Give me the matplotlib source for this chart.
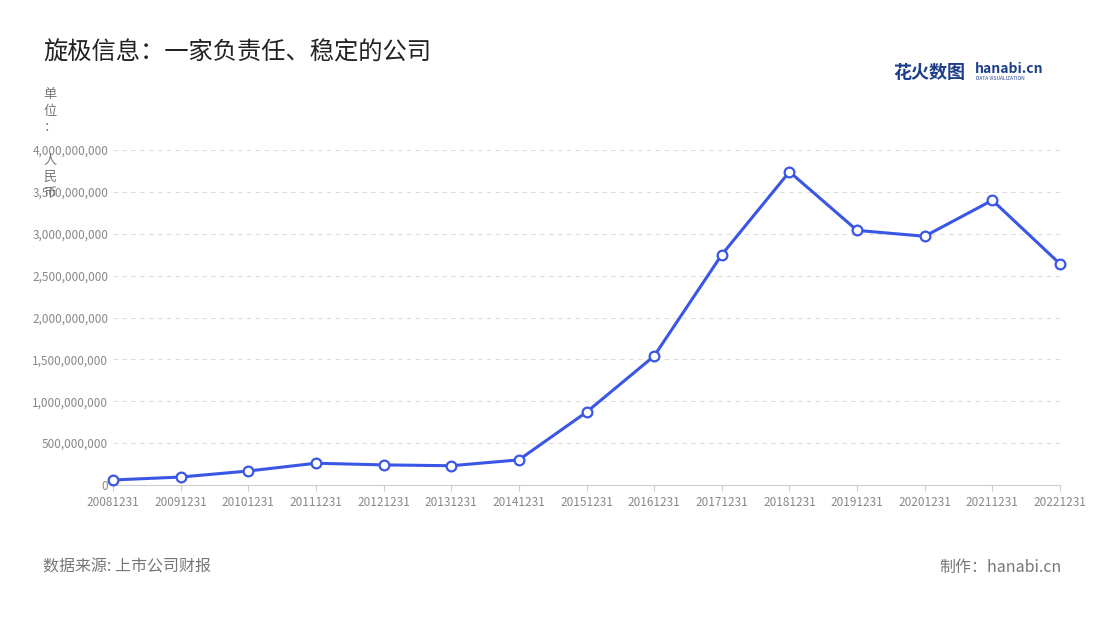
import matplotlib
matplotlib.use("Agg")
import matplotlib.pyplot as plt
from matplotlib.ticker import FuncFormatter

plt.rcParams['font.family'] = ['Noto Sans CJK SC', 'DejaVu Sans']

dates = ["20081231","20091231","20101231","20111231","20121231","20131231","20141231",
         "20151231","20161231","20171231","20181231","20191231","20201231","20211231","20221231"]
values = [0.06e9,0.095e9,0.167e9,0.26e9,0.24e9,0.23e9,0.30e9,0.87e9,1.54e9,2.75e9,
          3.74e9,3.04e9,2.97e9,3.40e9,2.64e9]
yticks = [0,5e8,1e9,1.5e9,2e9,2.5e9,3e9,3.5e9,4e9]

W,H = 1100,620
fig = plt.figure(figsize=(W/100,H/100), dpi=100)
ax = fig.add_axes([113/W, 1-485/H, (1060-113)/W, (485-150)/H])
x = list(range(len(dates)))
ax.plot(x, values, color='#3a56e4', lw=2.2, marker='o', ms=7,
        mfc='white', mec='#3a56e4', mew=1.6, zorder=3, clip_on=False)
ax.set_xlim(0, len(dates)-1)
ax.set_ylim(0, 4e9)
ax.set_yticks(yticks)
ax.yaxis.set_major_formatter(FuncFormatter(lambda v,p: f"{int(v):,}"))
ax.set_xticks(x)
ax.set_xticklabels(dates)
ax.tick_params(axis='both', labelsize=8.5, colors='#888888', length=0)
ax.tick_params(axis='x', length=4, color='#cccccc', pad=4)
ax.grid(axis='y', ls=(0,(4,4)), color='#dddddd', lw=0.8)
for s in ['top','right','left']:
    ax.spines[s].set_visible(False)
ax.spines['bottom'].set_color('#cccccc')

fig.text(43/W, 1-53/H, "旋极信息：一家负责任、稳定的公司", fontsize=17.5, color='#222222', va='center')
fig.text(50/W, 1-88/H, "单\n位\n：\n\n人\n民\n币", fontsize=9.5, color='#777777', va='top', ha='center', linespacing=1.35)
fig.text(43/W, 1-567/H, "数据来源: 上市公司财报", fontsize=11.5, color='#777777', va='center')
fig.text(1062/W, 1-567/H, "制作：hanabi.cn", fontsize=11.5, color='#777777', va='center', ha='right')
fig.text(893/W, 1-72/H, "花火数图", fontsize=13, color='#1d3e8a', va='center', fontweight='bold')
fig.text(975/W, 1-69/H, "hanabi.cn", fontsize=10, color='#1d3e8a', va='center', fontweight='bold')
fig.text(976/W, 1-79/H, "DATA VISUALIZATION", fontsize=3.5, color='#1d3e8a', va='center')
fig.savefig("out.png", dpi=100)
